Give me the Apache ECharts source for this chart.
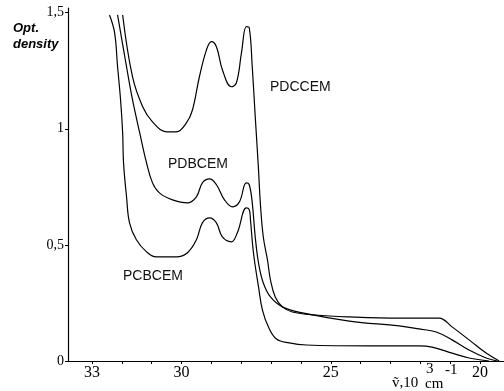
<!DOCTYPE html>
<html>
<head>
<meta charset="utf-8">
<script src="https://cdn.jsdelivr.net/npm/echarts@6/dist/echarts.min.js"></script>
<style>
html,body{margin:0;padding:0;background:#fff;}
#chart{width:504px;height:391px;}
</style>
</head>
<body>
<div id="chart"></div>
<script>
// Wavenumber (10^3 cm^-1) and optical density for each compound
const pdccemWn = [31.97,31.64,31.30,30.97,30.50,30.17,29.83,29.63,29.40,29.16,29.00,28.83,28.63,28.33,28.16,27.99,27.83,27.73,27.63,27.53,27.42,27.36,27.26,27.12,27.02,26.86,26.62,26.29,25.52,24.38,22.71,21.61,21.37,20.94,20.37,19.80,19.36];
const pdccemOd = [1.49,1.224,1.095,1.030,0.987,0.987,1.026,1.082,1.224,1.341,1.375,1.353,1.254,1.181,1.198,1.328,1.440,1.435,1.267,1.052,0.823,0.681,0.534,0.435,0.349,0.276,0.233,0.211,0.198,0.190,0.185,0.185,0.185,0.147,0.091,0.034,0.0];

const pdbcemWn = [32.14,31.84,31.64,31.40,31.17,30.97,30.74,30.30,29.80,29.50,29.30,29.06,28.83,28.56,28.29,28.06,27.83,27.73,27.63,27.53,27.42,27.26,27.02,26.62,25.95,24.38,22.71,22.04,21.47,20.94,20.37,19.80,19.43];
const pdbcemOd = [1.49,1.267,1.125,0.983,0.853,0.767,0.724,0.694,0.681,0.707,0.767,0.784,0.759,0.694,0.664,0.685,0.767,0.759,0.681,0.534,0.422,0.336,0.276,0.233,0.207,0.172,0.151,0.138,0.125,0.091,0.047,0.013,0.0];

const pcbcemWn = [32.41,32.24,32.14,32.04,31.97,31.94,31.84,31.74,31.51,31.17,30.84,30.17,29.80,29.50,29.30,29.06,28.83,28.63,28.33,28.13,27.83,27.73,27.69,27.59,27.42,27.29,27.09,26.82,26.39,25.82,23.71,22.04,21.61,20.94,20.37,19.70];
const pcbcemOd = [1.49,1.414,1.267,1.125,0.983,0.853,0.707,0.595,0.522,0.470,0.448,0.448,0.466,0.522,0.595,0.616,0.595,0.534,0.513,0.552,0.659,0.651,0.608,0.466,0.319,0.220,0.147,0.095,0.078,0.069,0.065,0.065,0.060,0.034,0.013,0.0];

const seriesNames = ['PDCCEM','PDBCEM','PCBCEM'];
const xTickLabels = [33,30,25,20];
const xMinorTicks = [20,21,22,23,24,25,26,27,28,29,30,31,32,33];
const yTickLabels = [0,0.5,1,1.5];

function pairs(xs, ys){ return xs.map((x,i)=>[x, ys[i]]); }

const chart = echarts.init(document.getElementById('chart'));
const serif = '"Liberation Serif","DejaVu Serif",serif';
const sans = '"Liberation Sans",Arial,sans-serif';
const lineStyle = {color:'#000', width:1.2};

chart.setOption({
  animation:false,
  backgroundColor:'#fff',
  grid:{left:68,right:0,top:8,bottom:30},
  xAxis:{
    type:'value', min:19.2, max:33.8, inverse:true,
    axisLine:{onZero:false, lineStyle:{color:'#000', width:1.2}},
    axisTick:{show:true, length:3, customValues:xMinorTicks, lineStyle:{color:'#000'}},
    axisLabel:{customValues:xTickLabels, color:'#000', fontFamily:serif, fontSize:16, margin:4},
    splitLine:{show:false}
  },
  yAxis:{
    type:'value', min:0, max:1.52,
    axisLine:{show:true, lineStyle:{color:'#000', width:1.2}},
    axisTick:{show:true, length:3, customValues:yTickLabels, lineStyle:{color:'#000'}},
    axisLabel:{customValues:yTickLabels, color:'#000', fontFamily:serif, fontSize:14, margin:4,
      formatter:v=>String(v).replace('.',',')},
    splitLine:{show:false}
  },
  series:[
    {name:seriesNames[0], type:'line', data:pairs(pdccemWn,pdccemOd), showSymbol:false, smooth:0.4, lineStyle:lineStyle},
    {name:seriesNames[1], type:'line', data:pairs(pdbcemWn,pdbcemOd), showSymbol:false, smooth:0.4, lineStyle:lineStyle},
    {name:seriesNames[2], type:'line', data:pairs(pcbcemWn,pcbcemOd), showSymbol:false, smooth:0.4, lineStyle:lineStyle}
  ],
  graphic:[
    {type:'text', left:13, top:20, style:{text:'Opt.\ndensity', font:'italic bold 13px '+sans, fill:'#000', lineHeight:16}},
    {type:'text', left:270, top:80, style:{text:seriesNames[0], font:'14px '+sans, fill:'#111'}},
    {type:'text', left:168, top:157, style:{text:seriesNames[1], font:'14px '+sans, fill:'#111'}},
    {type:'text', left:123, top:269, style:{text:seriesNames[2], font:'14px '+sans, fill:'#111'}},
    {type:'text', left:392, top:376, style:{text:'ṽ,10', font:'15px '+serif, fill:'#000'}},
    {type:'text', left:426, top:362, style:{text:'3', font:'15px '+serif, fill:'#000'}},
    {type:'text', left:425, top:377, style:{text:'cm', font:'15px '+serif, fill:'#000'}},
    {type:'text', left:445, top:363, style:{text:'-1', font:'15px '+serif, fill:'#000'}}
  ]
});
</script>
</body>
</html>
